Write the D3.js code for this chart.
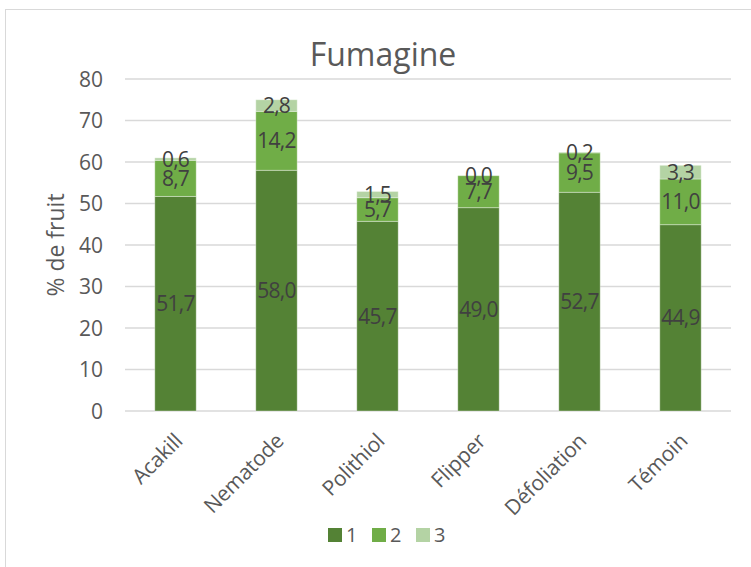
<!DOCTYPE html>
<html>
<head>
<meta charset="utf-8">
<style>
body { margin: 0; background: #fff; }
text { font-family: "Open Sans", "Noto Sans", sans-serif; }
</style>
</head>
<body>
<script src="https://d3js.org/d3.v7.min.js"></script>
<script>
var categories = ["Acakill", "Nematode", "Polithiol", "Flipper", "Défoliation", "Témoin"];
var seriesNames = ["1", "2", "3"];
var s1 = [51.7, 58.0, 45.7, 49.0, 52.7, 44.9];
var s2 = [8.7, 14.2, 5.7, 7.7, 9.5, 11.0];
var s3 = [0.6, 2.8, 1.5, 0.0, 0.2, 3.3];
var yTicks = [0, 10, 20, 30, 40, 50, 60, 70, 80];
var colors = ["#548235", "#70ad47", "#b4d3a4"];

var width = 751, height = 567;
var plotLeft = 125, plotRight = 731, plotTop = 79, plotBottom = 411;

var svg = d3.select("body").append("svg")
  .attr("width", width)
  .attr("height", height);

// chart border
svg.append("rect")
  .attr("x", 5.5).attr("y", 9.5)
  .attr("width", 760).attr("height", 570)
  .attr("fill", "none")
  .attr("stroke", "#d9d9d9");

var x = d3.scaleBand().domain(categories).range([plotLeft, plotRight]).paddingInner(0.59).paddingOuter(0.295);
var y = d3.scaleLinear().domain([0, 80]).range([plotBottom, plotTop]);

// gridlines
svg.append("g").selectAll("line")
  .data(yTicks)
  .join("line")
  .attr("x1", plotLeft).attr("x2", plotRight)
  .attr("y1", d => y(d)).attr("y2", d => y(d))
  .attr("stroke", "#d9d9d9")
  .attr("stroke-width", 1.3);

// y labels
svg.append("g").selectAll("text")
  .data(yTicks)
  .join("text")
  .attr("x", 103)
  .attr("y", d => y(d))
  .attr("dy", "0.36em")
  .attr("text-anchor", "end")
  .attr("fill", "#595959")
  .attr("font-size", 21)
  .text(d => d);

var rows = categories.map((c, i) => ({ cat: c, "1": s1[i], "2": s2[i], "3": s3[i] }));
var stack = d3.stack().keys(seriesNames)(rows);

var layers = svg.append("g").selectAll("g")
  .data(stack)
  .join("g")
  .attr("fill", (d, i) => colors[i]);

layers.selectAll("rect")
  .data(d => d)
  .join("rect")
  .attr("x", d => x(d.data.cat))
  .attr("width", x.bandwidth())
  .attr("y", d => y(d[1]))
  .attr("height", d => y(d[0]) - y(d[1]))
  .attr("stroke", "#ffffff")
  .attr("stroke-opacity", 0.35)
  .attr("stroke-width", 1);

// value labels
layers.selectAll("text")
  .data(d => d.map(v => ({ v: v, key: d.key })))
  .join("text")
  .attr("x", d => x(d.v.data.cat) + x.bandwidth() / 2)
  .attr("y", d => (y(d.v[0]) + y(d.v[1])) / 2)
  .attr("dy", "0.36em")
  .attr("text-anchor", "middle")
  .attr("fill", "#404040")
  .attr("font-size", 21)
  .attr("letter-spacing", -0.8)
  .text(d => d3.format(".1f")(d.v.data[d.key]).replace(".", ","));

// x axis category labels
svg.append("g").selectAll("text")
  .data(categories)
  .join("text")
  .attr("transform", d => "translate(" + (x(d) + x.bandwidth() / 2 + 3) + "," + (plotBottom + 26) + ") rotate(-45)")
  .attr("text-anchor", "end")
  .attr("dy", "0.36em")
  .attr("fill", "#595959")
  .attr("font-size", 21)
  .attr("letter-spacing", -0.2)
  .text(d => d);

// y axis title
svg.append("text")
  .attr("transform", "translate(64," + 245 + ") rotate(-90)")
  .attr("text-anchor", "middle")
  .attr("fill", "#595959")
  .attr("font-size", 23)
  .text("% de fruit");

// title
svg.append("text")
  .attr("x", 383).attr("y", 66)
  .attr("text-anchor", "middle")
  .attr("fill", "#595959")
  .attr("font-size", 32)
  .text("Fumagine");

// legend
var legend = svg.append("g").selectAll("g")
  .data(seriesNames)
  .join("g")
  .attr("transform", (d, i) => "translate(" + (328 + i * 44) + ",528)");
legend.append("rect")
  .attr("width", 14).attr("height", 14)
  .attr("fill", (d, i) => colors[i]);
legend.append("text")
  .attr("x", 18).attr("y", 7)
  .attr("dy", "0.36em")
  .attr("fill", "#595959")
  .attr("font-size", 20)
  .text(d => d);
</script>
</body>
</html>
